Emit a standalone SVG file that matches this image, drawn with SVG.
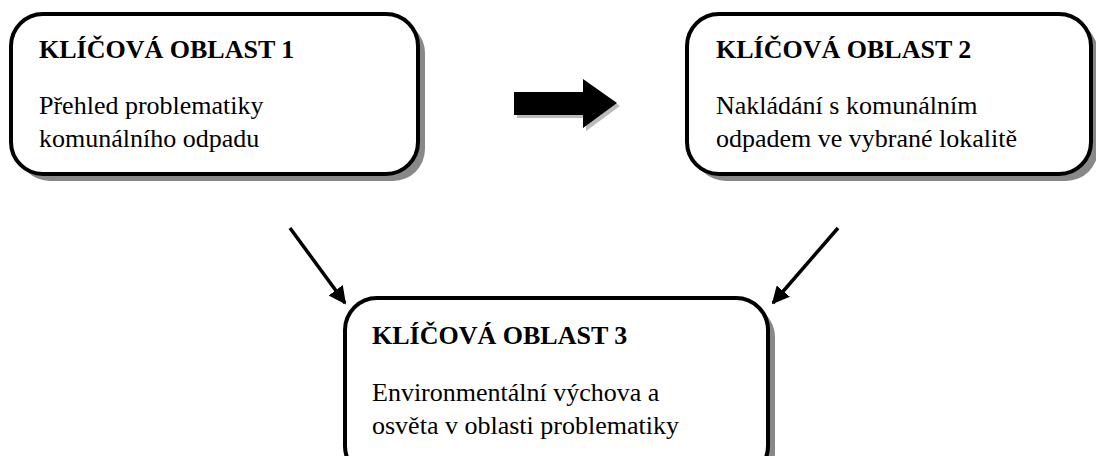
<svg xmlns="http://www.w3.org/2000/svg" width="1096" height="456" viewBox="0 0 1096 456">
<defs>
<style>
.box{fill:#fff;stroke:#000;stroke-width:4}
.sh{fill:#888}
.t{font-family:"Liberation Serif","Times New Roman",serif;font-size:26px;font-weight:bold;fill:#000}
.b{font-family:"Liberation Serif","Times New Roman",serif;font-size:26px;fill:#000}
.ln{stroke:#000;stroke-width:3.5;fill:none}
</style>
<marker id="ah" viewBox="0 0 10 10" refX="9" refY="5" markerWidth="5" markerHeight="5" orient="auto" markerUnits="strokeWidth">
<path d="M0,0 L10,5 L0,10 z" fill="#000"/>
</marker>
</defs>
<rect width="1096" height="456" fill="#fff"/>
<g id="node1">
<rect class="sh" x="18" y="21" width="407" height="160" rx="32"/>
<rect class="box" x="11" y="14" width="407" height="160" rx="32"/>
<text class="t" x="39" y="58">KLÍČOVÁ OBLAST 1</text>
<text class="b" x="39" y="114">Přehled problematiky</text>
<text class="b" x="39" y="147">komunálního odpadu</text>
</g>
<g id="node2">
<rect class="sh" x="694" y="21" width="404" height="160" rx="32"/>
<rect class="box" x="687" y="14" width="404" height="160" rx="32"/>
<text class="t" x="716" y="58">KLÍČOVÁ OBLAST 2</text>
<text class="b" x="716" y="114">Nakládání s komunálním</text>
<text class="b" x="716" y="147">odpadem ve vybrané lokalitě</text>
</g>
<g id="node3">
<rect class="sh" x="352" y="305" width="423" height="180" rx="32"/>
<rect class="box" x="345" y="298" width="423" height="180" rx="32"/>
<text class="t" x="372" y="344">KLÍČOVÁ OBLAST 3</text>
<text class="b" x="372" y="401">Environmentální výchova a</text>
<text class="b" x="372" y="434">osvěta v oblasti problematiky</text>
</g>
<g id="connectors">
<path d="M517,95 h69 v-13 l34,24 l-34,25 v-13 h-69 z" fill="#bbb"/>
<path d="M514,92 h69 v-13 l34,24 l-34,25 v-13 h-69 z" fill="#000"/>
<line class="ln" x1="290" y1="228" x2="345" y2="303" marker-end="url(#ah)"/>
<line class="ln" x1="838" y1="228" x2="773" y2="303" marker-end="url(#ah)"/>
</g>
</svg>
